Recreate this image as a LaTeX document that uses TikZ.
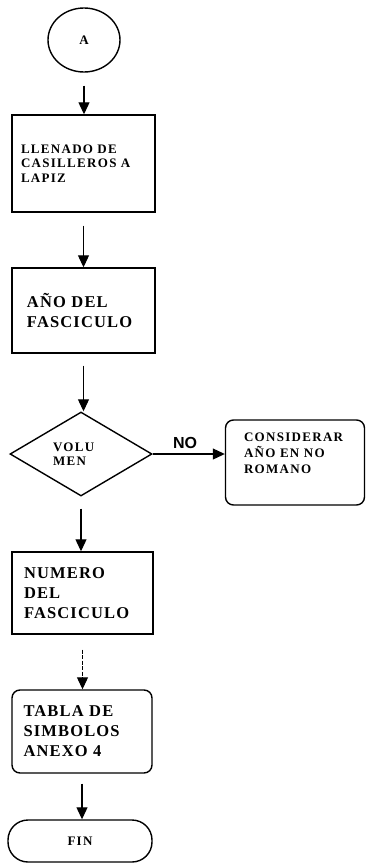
\documentclass[tikz,border=0pt]{standalone}
\usepackage{fontspec}
\setmainfont{Liberation Serif}
\newfontfamily\bigfont[LetterSpace=7]{Liberation Serif}
\newfontfamily\smallfont[LetterSpace=10]{Liberation Serif}
\newfontfamily\nofont{Liberation Sans}
\usetikzlibrary{shapes.geometric,arrows.meta}
\begin{document}
\begin{tikzpicture}[x=1pt,y=-1pt,
  box/.style={draw,line width=1.4pt,inner sep=0pt},
  arr/.style={line width=1.1pt,-{Triangle[length=12pt,width=11pt]}},
  big/.style={font=\bigfont\bfseries\fontsize{16.5}{20}\selectfont,align=left},
  small/.style={font=\smallfont\bfseries\fontsize{13}{14.5}\selectfont,align=left}]
\useasboundingbox (0,0) rectangle (366,865);

\node[ellipse,draw,line width=1.4pt,minimum width=72pt,minimum height=64pt,inner sep=0pt,
  font=\bfseries\fontsize{13}{15}\selectfont] (a) at (84,40) {A};

\node[box,minimum width=143pt,minimum height=97pt,small,text width=125pt] (b) at (83.5,163.5)
  {LLENADO DE\\CASILLEROS A\\LAPIZ};

\node[box,minimum width=143pt,minimum height=85pt,big,text width=113pt] (c) at (83.5,310.5)
  {AÑO DEL\\FASCICULO};

\node[diamond,draw,line width=1.4pt,minimum width=142pt,minimum height=84pt,inner sep=0pt,
  small,text width=56pt] (d) at (81,454) {VOLU\\MEN};

\node[box,rounded corners=8pt,minimum width=139pt,minimum height=85pt,
  font=\smallfont\bfseries\fontsize{13}{16}\selectfont] (e) at (295,462.5)
  {\parbox[c][85pt][t]{102pt}{\vspace{13pt}CONSIDERAR\\AÑO EN NO\\ROMANO}};

\node[box,minimum width=141pt,minimum height=82pt,big,text width=117pt] (f) at (82.5,593)
  {NUMERO\\DEL\\FASCICULO};

\node[box,rounded corners=8pt,minimum width=140pt,minimum height=83pt,big,text width=117pt] (g) at (82,731.5)
  {TABLA DE\\SIMBOLOS\\ANEXO 4};

\node[box,rounded corners=20pt,minimum width=144pt,minimum height=42pt,
  font=\smallfont\bfseries\fontsize{13}{15}\selectfont] (h) at (80,841) {FIN};

\draw[arr,shorten <=13pt] (a.south) -- (a.south |- b.north);
\draw[arr,shorten <=13pt] (b.south) -- (b.south |- c.north);
\draw[arr,shorten <=12pt] (c.south) -- (c.south |- d.north);
\draw[arr,shorten <=12pt] (d.south) -- (d.south |- f.north);
\draw[arr,shorten <=15pt,dash pattern=on 4pt off 1.5pt] (f.south) -- (f.south |- g.north);
\draw[arr,shorten <=10pt] (g.south) -- (g.south |- h.north);
\draw[arr] (d.east) -- node[pos=0.45,above=1pt,font=\nofont\bfseries\fontsize{16}{18}\selectfont] {NO} (d.east -| e.west);
\end{tikzpicture}
\end{document}
